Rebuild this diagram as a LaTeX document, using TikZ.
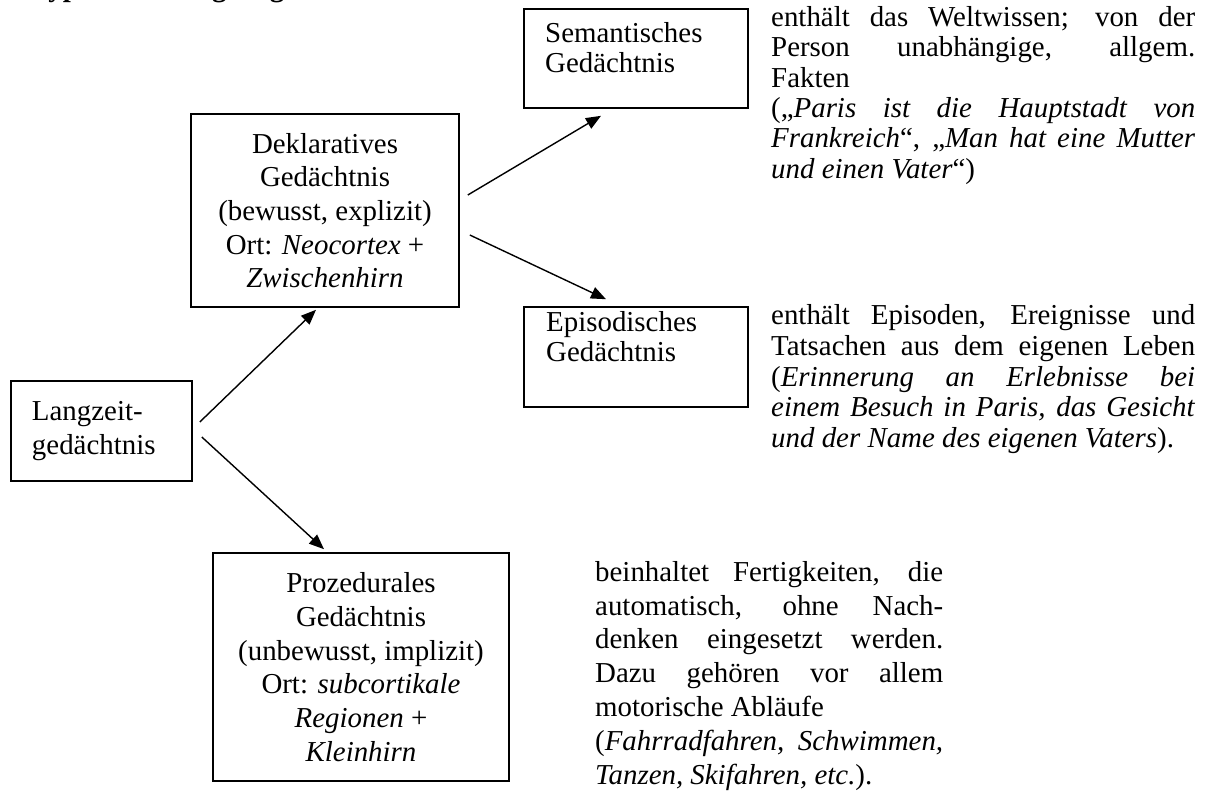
\documentclass[tikz,border=0pt]{standalone}
\usepackage{fontspec}
\setmainfont{Liberation Serif}
\usetikzlibrary{arrows.meta,calc}
% a line stretched to a fixed width (justified)
\newcommand\justline[2]{\makebox[#1][s]{#2}}

\begin{document}
\begin{tikzpicture}[x=1bp,y=-1bp,
  box/.style={draw, line width=1.6bp, inner sep=0pt},
  link/.style={line width=1.4bp, -{Triangle[length=15bp,width=12bp]}},
  bigtext/.style={font=\fontsize{29}{33.8}\selectfont},
  smalltext/.style={font=\fontsize{29}{30.5}\selectfont, inner sep=0pt, align=left},
  paratext/.style={font=\fontsize{29}{30.5}\selectfont, inner sep=0pt, align=left},
  proctext/.style={font=\fontsize{29}{34}\selectfont, inner sep=0pt, align=left},
]
\useasboundingbox (0,0) rectangle (1207,791);

% heading, cut off at the top edge
\node[anchor=base west, inner sep=0pt, font=\fontsize{29}{33}\selectfont\bfseries]
  (title) at (31,-3) {Typen des Langzeitgedächtnisses};

% boxes
\node[box, bigtext, text width=139bp, align=left, minimum width=181bp, minimum height=100bp]
  (lang) at (101.5,431) {Langzeit-\\gedächtnis};
\node[box, bigtext, align=center, minimum width=268bp, minimum height=193bp]
  (dekl) at (325,210.5) {Deklaratives\\Gedächtnis\\(bewusst, explizit)\\Ort: \textit{Neocortex} +\\\textit{Zwischenhirn}};
\node[box, bigtext, align=center, minimum width=296bp, minimum height=228bp]
  (proz) at (361,667) {Prozedurales\\Gedächtnis\\(unbewusst, implizit)\\Ort: \textit{subcortikale}\hspace*{42bp}\\\textit{Regionen} +\\\textit{Kleinhirn}};
\node[box, minimum width=224bp, minimum height=99bp] (sem) at (636,58.5) {};
\node[smalltext, anchor=north west] (semt) at (545,22) {Semantisches\\Gedächtnis};
\node[box, minimum width=224bp, minimum height=100bp] (epi) at (636,357) {};
\node[smalltext, anchor=north west] (epit) at (546,311) {Episodisches\\Gedächtnis};

% descriptions
\node[paratext, anchor=north west] (semd) at (771,6) {%
  \justline{424bp}{enthält das Weltwissen; von der}\\
  \justline{424bp}{Person unabhängige, allgem.}\\
  Fakten\\
  \justline{424bp}{(„\textit{Paris ist die Hauptstadt von}}\\
  \justline{424bp}{\textit{Frankreich}“, „\textit{Man hat eine Mutter}}\\
  \textit{und einen Vater}“)};
\node[paratext, anchor=north west, font=\fontsize{29}{31}\selectfont] (epid) at (771,304) {%
  \justline{424bp}{enthält Episoden, Ereignisse und}\\
  \justline{424bp}{Tatsachen aus dem eigenen Leben}\\
  \justline{424bp}{(\textit{Erinnerung an Erlebnisse bei}}\\
  \justline{424bp}{\textit{einem Besuch in Paris, das Gesicht}}\\
  \textit{und der Name des eigenen Vaters}).};
\node[proctext, anchor=north west] (prozd) at (595,561) {%
  \justline{348bp}{beinhaltet Fertigkeiten, die}\\
  \justline{348bp}{automatisch, ohne Nach-}\\
  \justline{348bp}{denken eingesetzt werden.}\\
  \justline{348bp}{Dazu gehören vor allem}\\
  motorische Abläufe\\
  \justline{348bp}{(\textit{Fahrradfahren, Schwimmen,}}\\
  \textit{Tanzen, Skifahren, etc.}).};

% connectors
\coordinate (ld0) at ($(lang.east)+(7,-9)$);
\coordinate (ld1) at ($(dekl.south)+(-9,2)$);
\coordinate (lp0) at ($(lang.east)+(9,6)$);
\coordinate (lp1) at ($(proz.north)+(-37,-3)$);
\coordinate (ds0) at ($(dekl.east)+(8,-15.5)$);
\coordinate (ds1) at ($(sem.south)+(-35,7)$);
\coordinate (de0) at ($(dekl.east)+(10,24.5)$);
\coordinate (de1) at ($(epi.north)+(-30,-7)$);
\draw[link] (ld0) -- (ld1);
\draw[link] (lp0) -- (lp1);
\draw[link] (ds0) -- (ds1);
\draw[link] (de0) -- (de1);
\end{tikzpicture}
\end{document}
